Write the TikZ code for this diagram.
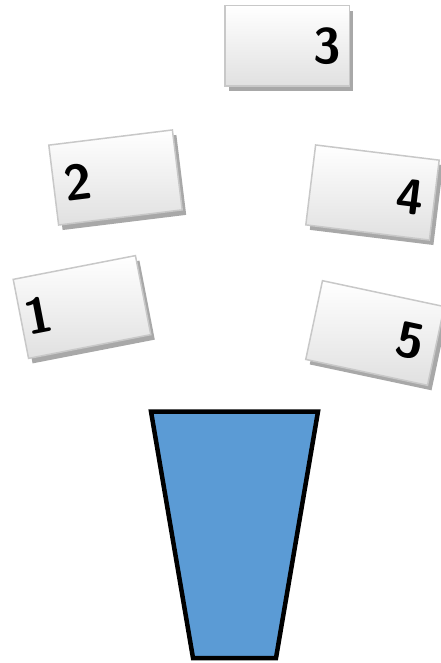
\documentclass[tikz,border=0pt]{standalone}
\usetikzlibrary{shadows,calc}
\definecolor{cupblue}{HTML}{5B9BD5}
\definecolor{cardedge}{HTML}{C8C8C8}
\definecolor{cardshade}{HTML}{A8A8A8}
\begin{document}
\begin{tikzpicture}[x=1pt,y=-1pt]
	\tikzset{card/.style={draw=cardedge, line width=1.5pt, top color=white, bottom color=black!12,
			minimum width=124.5pt, minimum height=80.5pt, inner sep=0pt,
			drop shadow={shadow xshift=4pt, shadow yshift=-5pt, fill=cardshade, opacity=1}},
		digit/.style={font=\fontsize{50}{50}\selectfont\sffamily\bfseries, inner sep=0pt}}

	\useasboundingbox (0,0) rectangle (440,663);

	% Cards, tilted as they fall
	\node[card, rotate=11] (c1) at (82,307) {};
	\node[card, rotate=7] (c2) at (115.5,177.5) {};
	\node[card] (c3) at (287,46) {};
	\node[card, rotate=-7] (c4) at (372.5,192.5) {};
	\node[card, rotate=-12] (c5) at (375,333) {};

	% Card numbers
	\node[digit, rotate=11] (n1) at ($(c1.west)!0.15!(c1.east)$) {1};
	\node[digit, rotate=7] (n2) at ($(c2.west)!0.2!(c2.east)$) {2};
	\node[digit] (n3) at ($(c3.west)!0.82!(c3.east)$) {3};
	\node[digit, rotate=-7] (n4) at ($(c4.west)!0.8!(c4.east)$) {4};
	\node[digit, rotate=-12] (n5) at ($(c5.west)!0.79!(c5.east)$) {5};

	% Cup
	\draw[line width=4.5pt, fill=cupblue] (151,411.5) -- (318,411.5) -- (276,658) -- (193,658) -- cycle;
\end{tikzpicture}
\end{document}
